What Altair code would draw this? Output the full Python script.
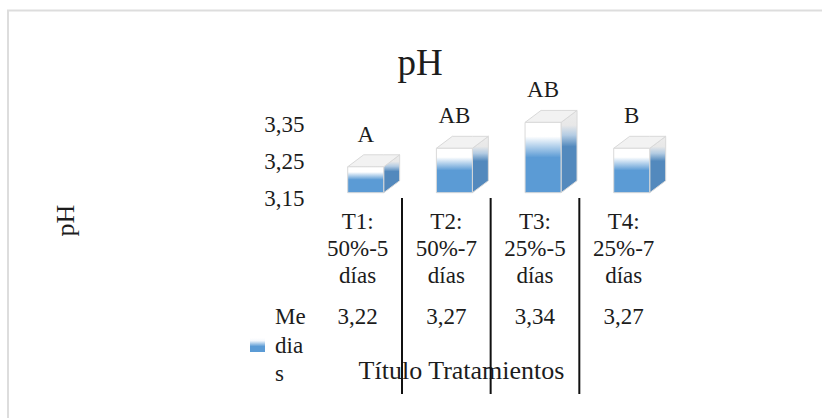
import altair as alt
import pandas as pd

# Treatment means and their labels
categories = ["T1:\n50%-5\ndías", "T2:\n50%-7\ndías", "T3:\n25%-5\ndías", "T4:\n25%-7\ndías"]
means = [3.22, 3.27, 3.34, 3.27]
letters = ["A", "AB", "AB", "B"]
y_ticks = [3.15, 3.25, 3.35]

FONT = "Liberation Serif"
INK = "#1c1c1c"
BASE = 3.15
FRONT_LEFT, FRONT_WIDTH = 0.388, 0.406  # box front, in category units
DEPTH_X, DEPTH_Y = 0.18, 0.0324         # oblique offset of the box's rear edge

x_scale = alt.Scale(domain=[0, 4], range=[313.3, 668])
y_scale = alt.Scale(domain=[3.15, 3.35], range=[192.7, 118.7])
X = alt.X("x:Q", scale=x_scale, axis=None)


def grad(stops):
    return alt.Gradient(
        gradient="linear", x1=0, y1=0, x2=0, y2=1,
        stops=[alt.GradientStop(offset=o, color=c) for o, c in stops],
    )


front_rows, side_rows, top_rows, cell_rows = [], [], [], []
for i, (cat, m, letter) in enumerate(zip(categories, means, letters)):
    l = i + FRONT_LEFT
    r = l + FRONT_WIDTH
    front_rows.append(dict(x=l, x2=r, y=m, y2=BASE))
    side_rows += [
        dict(bar=i, x=r, y=m, y2=BASE),
        dict(bar=i, x=r + DEPTH_X, y=m + DEPTH_Y, y2=BASE + DEPTH_Y),
    ]
    top_rows += [
        dict(bar=i, x=l, y=m, y2=m),
        dict(bar=i, x=l + DEPTH_X, y=m + DEPTH_Y, y2=m),
        dict(bar=i, x=r, y=m + DEPTH_Y, y2=m),
        dict(bar=i, x=r + DEPTH_X, y=m + DEPTH_Y, y2=m + DEPTH_Y),
    ]
    cell_rows.append(dict(
        cx=i + 0.5, fx=l + FRONT_WIDTH / 2, top=m + DEPTH_Y,
        cat=cat, letter=letter, mean=f"{m:.2f}".replace(".", ","),
    ))

front = pd.DataFrame(front_rows)
side = pd.DataFrame(side_rows)
top = pd.DataFrame(top_rows)
cells = pd.DataFrame(cell_rows)
seps = pd.DataFrame({"x": [1, 2, 3]})
one = pd.DataFrame({"k": [0]})

EDGE = "#d9d9d9"
front_fill = grad([(0, "#ffffff"), (0.2, "#ffffff"), (0.5, "#5b9bd5")])
side_fill = grad([
    (0, "#ececec"), (0.18, "#e8e8e8"), (0.3, "#b4cce3"),
    (0.44, "#5389bd"), (1, "#5389bd"),
])

y_axis = alt.Axis(
    values=y_ticks, domain=False, ticks=False, grid=False, offset=-313,
    labelExpr="replace(format(datum.value, '.2f'), '.', ',')",
    labelFont=FONT, labelFontSize=23, labelColor=INK, labelPadding=9, labelOffset=6,
    title="pH", titleFont=FONT, titleFontSize=26, titleFontWeight="normal", titleColor=INK,
    titleX=-248, titleY=220, titleAngle=270, titleAlign="center", titleBaseline="middle",
)
Y = alt.Y("y:Q", scale=y_scale, axis=y_axis)

front_layer = alt.Chart(front).mark_rect(fill=front_fill, stroke=EDGE, strokeWidth=1).encode(
    x=X, x2="x2:Q", y=Y, y2="y2:Q",
)
side_layer = alt.Chart(side).mark_area(fill=side_fill, stroke=EDGE, strokeWidth=1).encode(
    x=X, y=Y, y2="y2:Q", detail="bar:N",
)
top_layer = alt.Chart(top).mark_area(fill="#f2f2f2", stroke=EDGE, strokeWidth=1).encode(
    x=X, y=Y, y2="y2:Q", detail="bar:N",
)

text_style = dict(font=FONT, fontSize=23, color=INK)

letter_layer = alt.Chart(cells).mark_text(baseline="middle", dy=-20, **text_style).encode(
    x=alt.X("fx:Q", scale=x_scale, axis=None),
    y=alt.Y("top:Q", scale=y_scale, axis=y_axis),
    text="letter:N",
)
category_layer = alt.Chart(cells).mark_text(
    baseline="middle", lineBreak="\n", lineHeight=27, **text_style
).encode(
    x=alt.X("cx:Q", scale=x_scale, axis=None), y=alt.value(222), text="cat:N",
)
mean_layer = alt.Chart(cells).mark_text(baseline="middle", **text_style).encode(
    x=alt.X("cx:Q", scale=x_scale, axis=None), y=alt.value(317), text="mean:N",
)
sep_layer = alt.Chart(seps).mark_rule(color="#111111", strokeWidth=2).encode(
    x=X, y=alt.value(198), y2=alt.value(394),
)

frame_top = alt.Chart(one).mark_rule(color="#dddddd", strokeWidth=2).encode(
    x=alt.value(7), x2=alt.value(822), y=alt.value(10.5),
)
frame_left = alt.Chart(one).mark_rule(color="#dddddd", strokeWidth=2).encode(
    x=alt.value(8), y=alt.value(10), y2=alt.value(418),
)

chart_title = alt.Chart(one).mark_text(
    font=FONT, fontSize=37, color=INK, baseline="middle"
).encode(x=alt.value(420), y=alt.value(64), text=alt.value("pH"))

x_title = alt.Chart(one).mark_text(
    font=FONT, fontSize=26, color=INK, baseline="middle"
).encode(
    x=alt.value(461.5), y=alt.value(371), text=alt.value("Título Tratamientos"),
)

legend_swatch = alt.Chart(one).mark_rect(
    fill=grad([(0, "#ffffff"), (0.2, "#f4f8fc"), (0.6, "#5b9bd5")])
).encode(x=alt.value(250), x2=alt.value(265), y=alt.value(338), y2=alt.value(352))
legend_text = alt.Chart(one).mark_text(
    align="left", baseline="middle", lineBreak="\n", lineHeight=28.5, **text_style
).encode(x=alt.value(275), y=alt.value(317), text=alt.value("Me\ndia\ns"))

chart = (
    alt.layer(
        frame_top, frame_left, side_layer, top_layer, front_layer, letter_layer,
        category_layer, mean_layer, x_title, sep_layer,
        chart_title, legend_swatch, legend_text,
    )
    .properties(
        width=822, height=418, padding=0,
        autosize=alt.AutoSizeParams(type="none"), background="white",
    )
    .configure_view(stroke=None)
)

chart.save("out.html", embed_options={"renderer": "svg", "actions": False})
